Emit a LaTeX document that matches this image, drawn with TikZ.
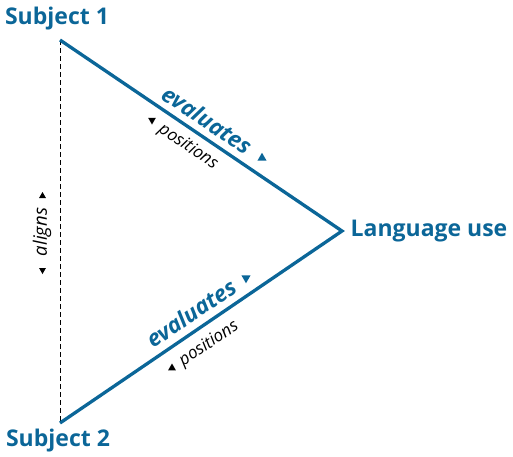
\documentclass[tikz,border=0pt]{standalone}
\usepackage{fontspec}
\setmainfont{Open Sans}
\usetikzlibrary{shapes.geometric}
\definecolor{blu}{HTML}{0B6698}
\tikzset{
  big/.style={font=\fontsize{23}{27}\selectfont\bfseries, text=blu, inner sep=0pt},
  evl/.style={font=\fontsize{22.5}{26}\selectfont\bfseries\itshape, text=blu, inner sep=0pt},
  poslab/.style={font=\fontsize{17}{20}\selectfont\itshape, text=black, inner sep=0pt},
  alab/.style={font=\fontsize{18.5}{22}\selectfont\itshape, text=black, inner sep=0pt},
  blueline/.style={draw=blu, line width=3.3pt, line join=miter},
  dashline/.style={draw=black, line width=0.9pt, dash pattern=on 4.5pt off 3.5pt},
  tri/.style={regular polygon, regular polygon sides=3, inner sep=0pt, minimum size=#1},
  tri/.default=9pt,
  tup/.style={tri, fill=black},
  tdn/.style={tri, fill=black, shape border rotate=180},
  btup/.style={tri=10.5pt, fill=blu},
  btdn/.style={tri=10.5pt, fill=blu, shape border rotate=180},
}
\begin{document}
\begin{tikzpicture}[x=1pt,y=-1pt]
\useasboundingbox (0,0) rectangle (513,456);
\coordinate (s1) at (60,40);
\coordinate (lu) at (342,231);
\coordinate (s2) at (60,423);
\node[big] (t1) at (57,19) {Subject 1};
\node[big] (t2) at (58,441) {Subject 2};
\node[big] (t3) at (429,231) {Language use};
\draw[dashline] (s1) -- (s2);
\draw[blueline] (s1) -- (lu) -- (s2);
% upper labels
\node[evl, rotate=-34.1] (e1) at (207,120) {evaluates};
\node[btup] (a1) at (262,158) {};
\node[poslab, rotate=-34.1] (p1) at (188,147) {positions};
\node[tdn] (a2) at (152,120) {};
% lower labels
\node[evl, rotate=34.2] (e2) at (191,313) {evaluates};
\node[btdn] (a3) at (246,278) {};
\node[poslab, rotate=34.2] (p2) at (209,344) {positions};
\node[tup] (a4) at (172,368) {};
% aligns
\node[alab, rotate=90] (al) at (42,232) {aligns};
\node[tup, minimum size=8pt] (a5) at (42.5,196) {};
\node[tdn, minimum size=8pt] (a6) at (42.5,270) {};
\end{tikzpicture}
\end{document}
